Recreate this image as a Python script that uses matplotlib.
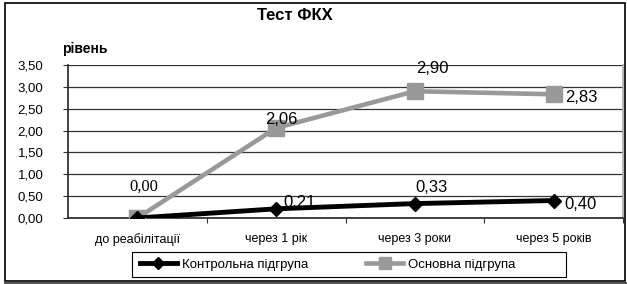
import matplotlib.pyplot as plt
from matplotlib.patches import Rectangle
from matplotlib.lines import Line2D

plt.rcParams['font.family'] = ['Liberation Sans', 'DejaVu Sans']

categories = ["до реабілітації", "через 1 рік", "через 3 роки", "через 5 років"]
control = [0.00, 0.21, 0.33, 0.40]
main_group = [0.00, 2.06, 2.90, 2.83]
y_ticks = [0.0, 0.5, 1.0, 1.5, 2.0, 2.5, 3.0, 3.5]


def fmt(v):
    return f"{v:.2f}".replace(".", ",")


fig = plt.figure(figsize=(6.27, 2.84), dpi=100)
ax = fig.add_axes([68 / 627, 1 - 218 / 284, 555 / 627, 153 / 284])

x = list(range(len(categories)))
ax.plot(x, main_group, color='#999999', lw=3.3, marker='s', ms=11.5,
        label='Основна підгрупа', zorder=3)
ax.plot(x, control, color='black', lw=3.5, marker='D', ms=7,
        label='Контрольна підгрупа', zorder=4)


def label(text, xy, dx, dy, ha='left', **kw):
    ax.annotate(text, xy, xytext=(dx, dy), textcoords='offset pixels',
                ha=ha, va='baseline', fontsize=12, **kw)


# data labels (offsets in pixels from the point)
label(fmt(control[0]), (0, control[0]), 6, 27, ha='center', family='Liberation Serif')
label(fmt(control[1]), (1, control[1]), 7, 2)
label(fmt(control[2]), (2, control[2]), 1, 12)
label(fmt(control[3]), (3, control[3]), 11, -8)
label(fmt(main_group[1]), (1, main_group[1]), 5, 4, ha='center')
label(fmt(main_group[2]), (2, main_group[2]), 1, 18)
label(fmt(main_group[3]), (3, main_group[3]), 12, -8)

ax.set_xlim(-0.5, 3.5)
ax.set_ylim(0, 3.5)
ax.set_yticks(y_ticks)
ax.set_yticklabels([fmt(v) for v in y_ticks], fontsize=9.5)
ax.yaxis.grid(True, color='#333333', lw=0.9)
ax.set_axisbelow(True)
ax.set_xticks([0.5, 1.5, 2.5, 3.5])
ax.set_xticklabels([])
ax.set_xticks(x, minor=True)
ax.set_xticklabels(categories, minor=True, fontsize=9)
ax.tick_params(axis='x', which='major', length=3.5, direction='out', color='#333333')
ax.tick_params(axis='x', which='minor', length=0, pad=11)
ax.tick_params(axis='y', length=3.6, direction='out', color='#333333', pad=14)

for s in ['left', 'bottom']:
    ax.spines[s].set_color('#222222')
    ax.spines[s].set_linewidth(1.2)
ax.spines['top'].set_visible(False)
ax.spines['right'].set_color('#aaaaaa')
ax.spines['right'].set_linewidth(1.2)

fig.text(295 / 627, 1 - 20 / 284, "Тест ФКХ", ha='center', va='baseline',
         fontsize=12, fontweight='bold')
fig.text(62 / 627, 1 - 53 / 284, "рівень", ha='left', va='baseline',
         fontsize=10, fontweight='bold')

# legend: entries placed by matplotlib, box drawn to match the original width
handles = [Line2D([], [], color='black', lw=3.5, marker='D', ms=6),
           Line2D([], [], color='#999999', lw=3.3, marker='s', ms=8)]
labels = ['Контрольна підгрупа', 'Основна підгрупа']
fig.legend(handles, labels, loc='center left',
           bbox_to_anchor=(140 / 627, 1 - 264.5 / 284), ncol=2,
           fontsize=9.5, frameon=False, borderpad=0, borderaxespad=0,
           handlelength=2.8, columnspacing=4.4, handletextpad=0.38)
fig.patches.append(Rectangle((132 / 627, 1 - 277 / 284), 434 / 627, 25 / 284,
                             transform=fig.transFigure, fill=False,
                             edgecolor='black', lw=0.8))

fig.patches.append(Rectangle((5 / 627, 3 / 284), 620 / 627, 278 / 284,
                             transform=fig.transFigure, fill=False,
                             edgecolor='black', lw=1.2))
fig.add_artist(Line2D([5 / 627, 625 / 627], [1.5 / 284, 1.5 / 284],
                      transform=fig.transFigure, color='#555555', lw=2.2))

fig.savefig("out.png", dpi=100)
